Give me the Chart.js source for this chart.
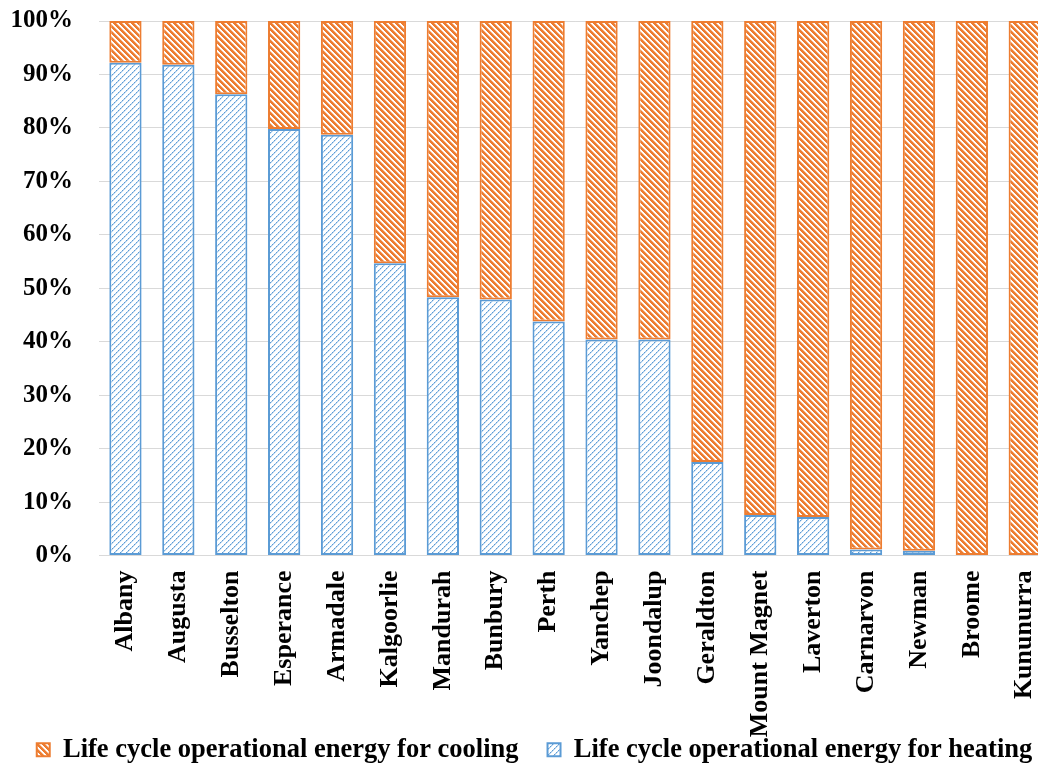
<!DOCTYPE html>
<html>
<head>
<meta charset="utf-8">
<script src="https://cdn.jsdelivr.net/npm/chart.js@4/dist/chart.umd.min.js"></script>
<style>
  html, body { margin: 0; padding: 0; background: #fff; overflow: hidden; }
  #wrap { width: 1071px; height: 770px; }
</style>
</head>
<body>
<div id="wrap"><canvas id="chart" width="1071" height="770"></canvas></div>
<script>
const categories = ["Albany", "Augusta", "Busselton", "Esperance", "Armadale", "Kalgoorlie",
  "Mandurah", "Bunbury", "Perth", "Yanchep", "Joondalup", "Geraldton", "Mount Magnet",
  "Laverton", "Carnarvon", "Newman", "Broome", "Kununurra"];
const heating = [92.2, 91.8, 86.3, 79.8, 78.7, 54.7, 48.3, 47.9, 43.8, 40.4, 40.4, 17.5, 7.6, 7.2, 1.1, 0.9, 0, 0];
const cooling = [7.8, 8.2, 13.7, 20.2, 21.3, 45.3, 51.7, 52.1, 56.2, 59.6, 59.6, 82.5, 92.4, 92.8, 98.9, 99.1, 100, 100];
const seriesNames = ["Life cycle operational energy for heating", "Life cycle operational energy for cooling"];
const yTicks = [0, 10, 20, 30, 40, 50, 60, 70, 80, 90, 100];

const FONT = "'Liberation Serif', 'Times New Roman', serif";

//build a small hatch tile pixel by pixel, colorFor(x,y) returns [r,g,b]
function makePattern(size, colorFor) {
  let c = document.createElement("canvas");
  c.width = size;
  c.height = size;
  let ctx = c.getContext("2d");
  let img = ctx.createImageData(size, size);
  for (let y = 0; y < size; y++) {
    for (let x = 0; x < size; x++) {
      let col = colorFor(x, y);
      let i = (y * size + x) * 4;
      img.data[i] = col[0];
      img.data[i + 1] = col[1];
      img.data[i + 2] = col[2];
      img.data[i + 3] = 255;
    }
  }
  ctx.putImageData(img, 0, 0);
  return document.getElementById("chart").getContext("2d").createPattern(c, "repeat");
}

// orange: wide downward diagonal "\"
const orangeFill = makePattern(6, (x, y) => {
  let k = (x - y + 60) % 6;
  if (k < 3) return [237, 125, 49];
  if (k == 3) return [246, 190, 152];
  return [255, 255, 255];
});
// blue: light upward diagonal "/"
const blueFill = makePattern(6, (x, y) => {
  let k = (x + y) % 6;
  if (k == 0) return (y % 2 == 0) ? [91, 155, 213] : [157, 195, 230];
  if (k == 1) return [197, 220, 241];
  return [255, 255, 255];
});

const config = {
  type: "bar",
  data: {
    labels: categories,
    datasets: [
      {
        label: seriesNames[0],
        data: heating,
        backgroundColor: blueFill,
        borderColor: "#5B9BD5",
        borderWidth: 2,
        borderSkipped: false,
      },
      {
        label: seriesNames[1],
        data: cooling,
        backgroundColor: orangeFill,
        borderColor: "#ED7D31",
        borderWidth: 2,
        borderSkipped: false,
      },
    ],
  },
  options: {
    responsive: false,
    animation: false,
    barPercentage: 0.61,
    categoryPercentage: 1.0,
    // slightly negative bottom padding pushes the (padded) legend down
    layout: { padding: { top: 21, right: 2, left: 0, bottom: -3 } },
    scales: {
      x: {
        stacked: true,
        grid: { display: false, drawTicks: false },
        border: { display: true, color: "#D9D9D9", width: 1 },
        ticks: {
          color: "#000",
          font: { family: FONT, size: 26, weight: "bold" },
          minRotation: 90,
          maxRotation: 90,
          autoSkip: false,
          padding: 15,
        },
        afterFit: (scale) => {
          scale.height = 152;
          // long labels (Mount Magnet) reach into the legend area, don't clip them
          scale._computeLabelArea = () => undefined;
        },
      },
      y: {
        stacked: true,
        min: 0,
        max: 100,
        afterBuildTicks: (scale) => { scale.ticks = yTicks.map((v) => ({ value: v })); },
        // invisible tick marks give the gap between labels and plot
        grid: { color: "#D9D9D9", lineWidth: 1, drawTicks: true, tickLength: 26, tickColor: "rgba(0,0,0,0)" },
        border: { display: false },
        ticks: {
          color: "#000",
          font: { family: FONT, size: 25, weight: "bold" },
          padding: 0,
          callback: (v) => v + "%",
        },
        afterFit: (scale) => { scale.width = 99; },
      },
    },
    plugins: {
      legend: {
        position: "bottom",
        reverse: true,
        labels: {
          color: "#000",
          font: { family: FONT, size: 26.5, weight: "bold" },
          boxWidth: 13,
          boxHeight: 13,
          padding: 29,
        },
      },
      tooltip: { enabled: false },
    },
  },
};

new Chart(document.getElementById("chart"), config);
</script>
</body>
</html>
